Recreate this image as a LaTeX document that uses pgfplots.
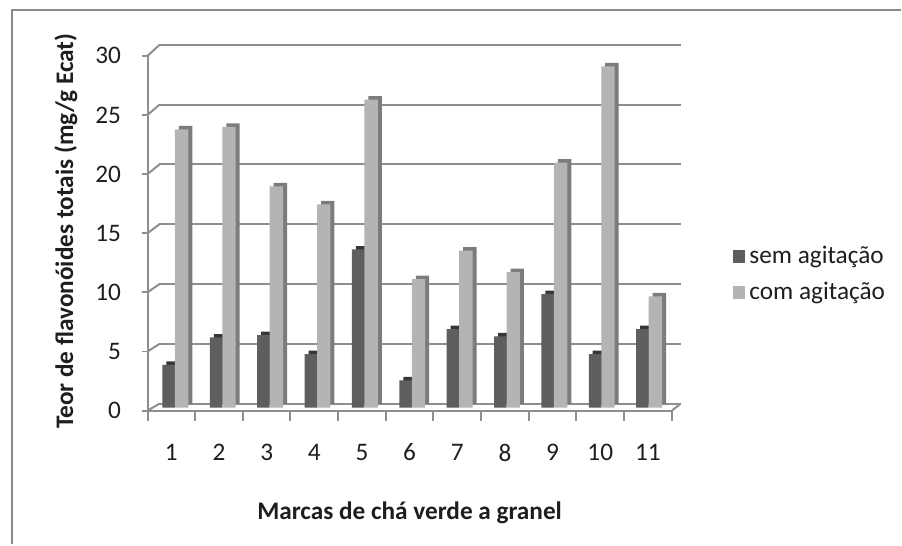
\documentclass[border=0pt]{standalone}
\usepackage{pgfplots}
\usepackage{pgfplotstable}
\pgfplotsset{compat=1.18}
\usepackage{fontspec}
\setmainfont{Carlito}

\definecolor{darkface}{HTML}{5E5E5E}
\definecolor{darkdepth}{HTML}{363636}
\definecolor{lightface}{HTML}{B4B4B4}
\definecolor{lightdepth}{HTML}{7C7C7C}
\definecolor{gridgray}{HTML}{8E8E8E}
\definecolor{framegray}{HTML}{8A8A8A}
\definecolor{textcol}{HTML}{1E1E1E}

% Teor de flavonoides totais (mg/g Ecat) por marca
\pgfplotstableread{
marca sem   com
1     3.6   23.4
2     5.9   23.6
3     6.1   18.6
4     4.5   17.1
5     13.3  25.9
6     2.3   10.8
7     6.6   13.2
8     6.0   11.4
9     9.55  20.6
10    4.5   28.7
11    6.6   9.35
}\flavtable

\newcommand{\chartfont}{\fontsize{19pt}{22pt}\selectfont}

\begin{document}
\begin{tikzpicture}[x=0.75pt,y=0.75pt,font=\chartfont]
% page size and outer frame
\path (0,0) rectangle (902,544);
\draw[framegray, line width=1.5pt] (12,-2) -- (12,534) -- (904,534);

% back wall with gridlines
\begin{axis}[
  at={(120pt,104.25pt)}, anchor=south west, scale only axis,
  width=392.25pt, height=270pt,
  xmin=0, xmax=1, ymin=0, ymax=30,
  axis line style={draw=none},
  xtick=\empty, ytick={0,5,...,30}, yticklabels={},
  major tick length=0pt, tick style={draw=none},
  ymajorgrids, grid style={gridgray, line width=1.5pt},
  clip=false,
]
\pgfplotsinvokeforeach{0,5,...,30}{\coordinate (b#1) at (axis cs:0,#1);}
\coordinate (br) at (axis cs:1,0);
\end{axis}

% bars
\begin{axis}[
  at={(113.8pt,101.25pt)}, anchor=south west, scale only axis,
  width=392.1pt, height=268.5pt,
  xmin=0.5, xmax=11.5, ymin=0, ymax=30,
  axis lines=none, clip=false,
  legend style={at={(1.115,0.46)}, anchor=north west, draw=none, fill=none,
    font=\chartfont, text=textcol, row sep=8.5pt,
    inner sep=0pt, nodes={inner xsep=3pt}},
  legend cell align=left,
  legend image code/.code={\fill[#1, draw=none] (0pt,-4.9pt) rectangle (9.75pt,4.9pt);},
]
\addplot[ybar, bar width=9.4pt, bar shift=-4.7pt, xshift=3pt, yshift=2.6pt,
  fill=darkdepth, draw=none, forget plot] table[x=marca, y=sem] {\flavtable};
\addplot[ybar, bar width=9.4pt, bar shift=-4.7pt,
  fill=darkface, draw=none, forget plot] table[x=marca, y=sem] {\flavtable};
\addplot[ybar, bar width=10.1pt, bar shift=5.05pt, xshift=3pt, yshift=2.6pt,
  fill=lightdepth, draw=none, forget plot] table[x=marca, y=com] {\flavtable};
\addplot[ybar, bar width=10.1pt, bar shift=5.05pt,
  fill=lightface, draw=none, forget plot] table[x=marca, y=com] {\flavtable};
\addlegendimage{fill=darkface, draw=none}
\addlegendentry{sem agitação}
\addlegendimage{fill=lightface, draw=none}
\addlegendentry{com agitação}
\end{axis}

% front axes with ticks and labels
\begin{axis}[
  at={(111pt,99pt)}, anchor=south west, scale only axis,
  width=394.5pt, height=267pt,
  xmin=0, xmax=11, ymin=0, ymax=30,
  axis x line*=bottom, axis y line*=left,
  axis line style={-, gridgray, line width=1.5pt},
  tick align=outside,
  ytick={0,5,...,30},
  xtick={0.5,1.5,...,10.5}, xticklabels={1,2,3,4,5,6,7,8,9,10,11},
  minor xtick={0,1,...,11},
  major tick length=4.5pt, minor tick length=7.5pt,
  major x tick style={draw=none},
  every tick/.style={gridgray, line width=1.5pt},
  /pgf/number format/assume math mode=true,
  tick label style={text=textcol, font=\chartfont},
  yticklabel style={xshift=-12pt},
  xticklabel style={yshift=-17pt},
  clip=false,
]
\pgfplotsinvokeforeach{0,5,...,30}{\coordinate (f#1) at (axis cs:0,#1);}
\coordinate (fr) at (axis cs:11,0);
\end{axis}

% short edges joining the front axis to the back wall
\foreach \v in {0,5,...,30} \draw[gridgray, line width=1.5pt] (f\v) -- (b\v);
\draw[gridgray, line width=1.5pt] (fr) -- (br);

% axis titles
\node[rotate=90, text=textcol, font=\chartfont\bfseries] at (66,312)
  {Teor de flavonóides totais (mg/g Ecat)};
\node[text=textcol, font=\chartfont\bfseries] at (411,30)
  {Marcas de chá verde a granel};
\end{tikzpicture}
\end{document}
